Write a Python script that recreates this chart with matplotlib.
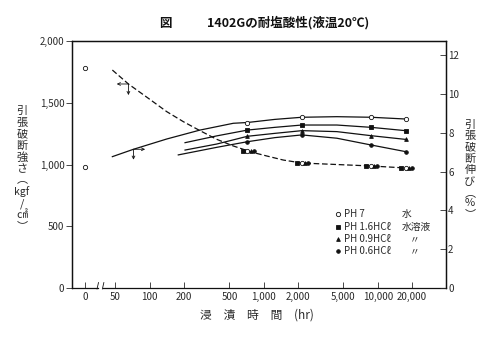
import numpy as np
import matplotlib
matplotlib.use("Agg")
import matplotlib.pyplot as plt
from matplotlib.ticker import FixedLocator, FixedFormatter, NullLocator
from matplotlib.transforms import offset_copy

plt.rcParams['font.family'] = ['Noto Sans CJK JP', 'DejaVu Sans']

# --- donnees ---
tick_hours = [0, 50, 100, 200, 500, 1000, 2000, 5000, 10000, 20000]
tick_labels = ['0', '50', '100', '200', '500', '1,000', '2,000', '5,000', '10,000', '20,000']
meas_hours = [720, 2160, 8760, 17520]

# resistance a la rupture (kgf/cm2), courbe en tirets
strength_h = [47, 65, 100, 141, 197, 276, 387, 541, 662, 720, 1063, 1487, 2160, 8760, 17520]
strength_v = [1765, 1652, 1528, 1428, 1347, 1274, 1204, 1150, 1123, 1109, 1069, 1036, 1012, 988, 972]
strength_0 = 1780
strength_meas = [1109, 1012, 988, 972]

# allongement a la rupture (%)
elong_0 = 6.24
ph7_h = [47, 72, 141, 276, 541, 720, 1250, 2160, 4377, 8760, 17520]
ph7_v = [6.77, 7.15, 7.68, 8.14, 8.49, 8.53, 8.69, 8.80, 8.83, 8.80, 8.71]
ph16_h = [204, 387, 720, 1250, 2160, 4377, 8760, 17520]
ph16_v = [7.49, 7.84, 8.14, 8.28, 8.40, 8.40, 8.28, 8.11]
ph09_h = [204, 387, 720, 1250, 2160, 4377, 8760, 17520]
ph09_v = [7.11, 7.42, 7.82, 7.97, 8.11, 8.06, 7.85, 7.66]
ph06_h = [178, 387, 720, 1250, 2160, 4377, 8760, 17520]
ph06_v = [6.86, 7.25, 7.54, 7.75, 7.89, 7.72, 7.37, 7.03]

labels_ph = ['PH 7', 'PH 1.6HCℓ', 'PH 0.9HCℓ', 'PH 0.6HCℓ']
labels_sol = ['水', '水溶液', '〃', '〃']

# etiquettes verticales (caractere, hauteur en px depuis le haut)
left_chars = [('引', 111), ('張', 122.6), ('破', 134.2), ('断', 145.8), ('強', 157.4), ('さ', 169),
              ('︵', 179), ('kgf', 191.5), ('/', 204), ('㎠', 215.5), ('︶', 226)]
right_chars = [('引', 125), ('張', 136.3), ('破', 147.6), ('断', 158.9), ('伸', 170.2), ('び', 181.5),
               ('︵', 193), ('%', 203.5), ('︶', 214)]

# --- style ---
INK = '#111111'
TXT = '#2a2a2a'
ZERO_POS = 27.1          # place du "0" sur l'axe log coupe
BREAK = (35.0, 39.0)     # coupure de l'axe x
series_style = [
    dict(marker='o', mfc='white', ms=3.1),
    dict(marker='s', mfc=INK, ms=2.3),
    dict(marker='^', mfc=INK, ms=2.7),
    dict(marker='o', mfc=INK, ms=2.6),
]
cluster_dx = [0, -3.4, 2.3, 4.4]   # decalage (pt) des marqueurs groupes sur la courbe en tirets

fig = plt.figure(figsize=(5, 3.37), dpi=100)
ax = fig.add_axes([0.144, 0.1454, 0.748, 0.7329])
ax2 = ax.twinx()

ax.set_xscale('log')
ax.set_xlim(20.8, 39700)
ax.set_ylim(0, 2000)
ax2.set_ylim(0, 12.73)

# courbe resistance (tirets)
ax.plot(strength_h, strength_v, color=INK, lw=0.9, ls=(0, (4.5, 2.2)))
ax.plot([ZERO_POS], [strength_0], ls='none', color=INK, mew=0.6, **series_style[0])
for st, dx in zip(series_style, cluster_dx):
    tr = offset_copy(ax.transData, fig=fig, x=dx, y=0, units='points')
    ax.plot(meas_hours, strength_meas, ls='none', color=INK, mew=0.6, transform=tr, **st)

# courbes allongement
curves = [(ph7_h, ph7_v), (ph16_h, ph16_v), (ph09_h, ph09_v), (ph06_h, ph06_v)]
for (hh, vv), st in zip(curves, series_style):
    mk = list(np.nonzero(np.isin(hh, meas_hours))[0])
    ax2.plot(hh, vv, color=INK, lw=0.9, markevery=mk, mew=0.6, **st)
ax2.plot([ZERO_POS], [elong_0], ls='none', color=INK, mew=0.6, **series_style[0])

# reperes en T (quelle courbe -> quel axe)
arw = dict(arrowstyle='<-', lw=0.6, color=INK, shrinkA=0, shrinkB=0, mutation_scale=5)
ax.annotate('', xy=(strength_h[1], strength_v[1]), xytext=(-8.4, 0), textcoords='offset points', arrowprops=arw)
ax.annotate('', xy=(strength_h[1], strength_v[1]), xytext=(0, -8.0), textcoords='offset points', arrowprops=arw)
ax2.annotate('', xy=(ph7_h[1], ph7_v[1]), xytext=(8.4, 0), textcoords='offset points', arrowprops=arw)
ax2.annotate('', xy=(ph7_h[1], ph7_v[1]), xytext=(0, -7.5), textcoords='offset points', arrowprops=arw)

# axes
pos = [ZERO_POS if h == 0 else h for h in tick_hours]
ax.xaxis.set_major_locator(FixedLocator(pos))
ax.xaxis.set_major_formatter(FixedFormatter(tick_labels))
ax.xaxis.set_minor_locator(NullLocator())
ax.tick_params(axis='x', direction='in', length=4, width=0.6, pad=3, labelsize=7, colors=TXT)
ax.tick_params(axis='y', direction='out', length=4, width=0.6, pad=1.5, labelsize=7, colors=TXT)
ax.set_yticks([0, 500, 1000, 1500, 2000])
ax.set_yticklabels(['0', '500', '1,000', '1,500', '2,000'])
ax2.set_yticks([0, 2, 4, 6, 8, 10, 12])
ax2.tick_params(axis='y', direction='in', length=4, width=0.6, pad=1.5, labelsize=7, colors=TXT)

for a in (ax, ax2):
    for s in a.spines.values():
        s.set_linewidth(0.9)
        s.set_color(INK)
    a.spines['bottom'].set_visible(False)

xt = ax.get_xaxis_transform()
ax.plot([ax.get_xlim()[0], BREAK[0]], [0, 0], color=INK, lw=0.9, transform=xt, clip_on=False)
ax.plot([BREAK[1], ax.get_xlim()[1]], [0, 0], color=INK, lw=0.9, transform=xt, clip_on=False)
for bx in BREAK:
    ax.plot([bx * 0.985, bx * 1.015], [-0.004, 0.022], color=INK, lw=0.6, transform=xt, clip_on=False)

# legende manuelle
rows_y = [0.2996, 0.249, 0.1984, 0.1478]
for y, st, l1, l2 in zip(rows_y, series_style, labels_ph, labels_sol):
    ax.plot([0.7104], [y], ls='none', color=INK, mew=0.6, transform=ax.transAxes, clip_on=False, **st)
    ax.text(0.7273, y, l1, transform=ax.transAxes, fontsize=7, color=TXT, va='center', ha='left')
    if l2 == '〃':
        ax.text(0.9171, y, l2, transform=ax.transAxes, fontsize=7, color=TXT, va='center', ha='center')
    else:
        ax.text(0.8815, y, l2, transform=ax.transAxes, fontsize=7, color=TXT, va='center', ha='left')

# textes
fig.text(165 / 500, 1 - 23 / 337, '図', fontsize=9, fontweight='bold', ha='center', va='center', color=INK)
fig.text(207 / 500, 1 - 23 / 337, '1402Gの耐塩酸性(液温20℃)', fontsize=9, fontweight='bold',
         ha='left', va='center', color=INK)
for ch, py in left_chars:
    fig.text(22 / 500, 1 - py / 337, ch, fontsize=8 if len(ch) == 1 else 7.5,
             ha='center', va='center', color=TXT)
for ch, py in right_chars:
    fig.text(470 / 500, 1 - py / 337, ch, fontsize=8, ha='center', va='center', color=TXT)
fig.text(257 / 500, 1 - 315 / 337, '浸　漬　時　間　(hr)', fontsize=8.5, ha='center', va='center', color=TXT)

fig.savefig('out.png', dpi=100)
